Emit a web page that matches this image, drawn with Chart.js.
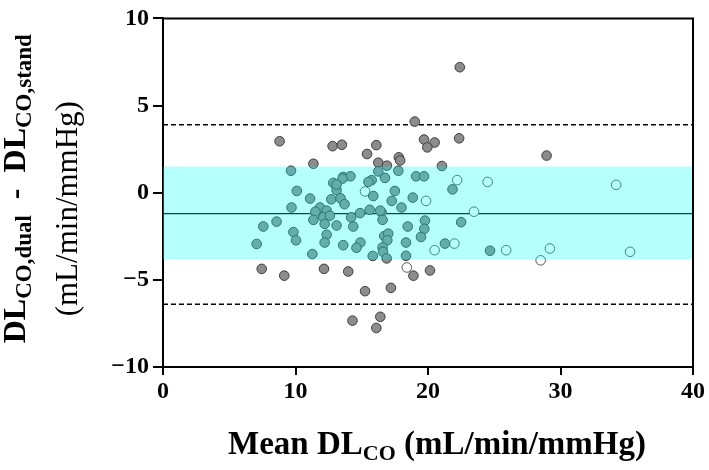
<!DOCTYPE html>
<html lang="en">
<head>
    <meta charset="UTF-8">
    <title>Bland-Altman DLCO</title>
    <script src="https://cdn.jsdelivr.net/npm/chart.js@4.4.1/dist/chart.umd.min.js"></script>
    <style>
        body {
            margin: 0;
            padding: 0;
            background: #fff;
        }
        .chart-box {
            width: 709px;
            height: 470px;
        }
    </style>
</head>
<body>
    <div class="chart-box">
        <canvas id="baChart" width="709" height="470"></canvas>
    </div>

    <script>
        // filled (grey) points: mean DLCO and difference dual - stand
        const filledMean = [
            8.8, 12.8, 13.5, 11.35, 22.4, 19.0, 16.1, 15.4, 19.7, 20.5,
            19.95, 22.35, 17.8, 17.9, 16.25, 16.9, 21.05, 28.95,
            7.45, 9.15, 12.15, 13.98, 15.25, 17.2, 18.9, 20.15, 14.3, 16.4, 16.1,
            9.66, 10.1, 12.85, 13.1, 17.76, 16.25, 13.6, 14.15, 15.75, 16.75,
            19.1, 19.7, 21.85, 17.5, 13.55, 11.1, 9.7, 11.85, 12.35, 11.5,
            12.7, 13.4, 13.7, 7.57, 8.57, 9.84, 10.04, 7.07, 11.35, 12.1,
            12.6, 12.2, 13.1, 12.35, 12.2, 11.27, 15.87, 17.26, 18.0, 18.85,
            22.5, 14.2, 14.87, 15.6, 16.5, 16.57, 14.36, 18.47, 19.77, 19.72,
            19.47, 16.7, 17.0, 16.93, 14.9, 14.6, 13.6, 16.57, 16.6, 18.34,
            15.83, 16.88, 18.34, 21.28, 24.68, 15.5, 13.1, 16.4
        ];
        const filledDiff = [
            2.95, 2.67, 2.75, 1.66, 7.2, 4.08, 2.73, 2.22, 3.05, 2.88,
            2.6, 3.12, 2.03, 1.85, 1.72, 1.55, 1.53, 2.13,
            -4.37, -4.76, -4.37, -4.52, -5.65, -5.46, -4.76, -4.46, -7.34, -7.12, -7.76,
            1.26, 0.1, 0.56, 0.15, 1.26, 1.22, 0.9, 0.94, 0.72, 0.85,
            0.94, 0.94, 0.19, 0.1, 0.81, -0.34, -0.85, -0.85, -1.03, -1.09,
            -0.38, -0.32, -0.66, -1.94, -1.66, -2.26, -2.73, -2.94, -1.56, -1.41,
            -1.32, -1.79, -1.88, -2.41, -2.86, -3.52, -0.19, -0.47, -0.85, -0.28,
            -1.69, -1.41, -1.17, -0.98, -1.13, -1.56, -1.94, -1.94, -1.6, -2.07,
            -2.54, -2.49, -2.35, -2.73, -2.86, -3.16, -3.01, -3.14, -3.39, -2.86,
            -3.63, -3.77, -3.62, -2.92, -3.33, 0.62, 0.47, -1.03
        ];

        // open points
        const openMean = [15.25, 22.2, 24.5, 19.85, 23.47, 20.5, 21.99, 25.9, 18.4, 34.2, 29.2, 28.5, 35.25];
        const openDiff = [0.07, 0.72, 0.62, -0.47, -1.09, -3.3, -2.92, -3.3, -4.29, 0.45, -3.2, -3.88, -3.39];

        // bias, limits of agreement and shaded band
        const bias = -1.2;
        const upperLoA = 3.9;
        const lowerLoA = -6.4;
        const bandTop = 1.5;
        const bandBottom = -3.8;

        const xRange = [0, 40];
        const yRange = [-10, 10];
        const xTicks = [0, 10, 20, 30, 40];
        const yTicks = [-10, -5, 0, 5, 10];

        const toPoints = (xs, ys) => xs.map((x, i) => ({ x: x, y: ys[i] }));
        const hLine = v => xRange.map(x => ({ x: x, y: v }));

        const serif = "'Liberation Serif', 'DejaVu Serif', serif";

        // draw a line of text made of normal and subscript pieces, centred on 0
        function drawRich(ctx, parts) {
            let total = 0;
            parts.forEach(p => {
                ctx.font = p.font;
                p.w = ctx.measureText(p.t).width;
                total += p.w;
            });
            let x = -total / 2;
            parts.forEach(p => {
                ctx.font = p.font;
                ctx.fillText(p.t, x, p.dy || 0);
                x += p.w;
            });
        }

        const framePlugin = {
            id: 'frameAndTitles',
            afterDraw(chart) {
                const ctx = chart.ctx;
                const a = chart.chartArea;
                ctx.save();
                ctx.strokeStyle = '#000';
                ctx.lineWidth = 2;
                ctx.beginPath();
                ctx.moveTo(a.left, a.top);
                ctx.lineTo(a.right, a.top);
                ctx.lineTo(a.right, a.bottom);
                ctx.stroke();

                ctx.fillStyle = '#000';
                ctx.textBaseline = 'alphabetic';
                const big = 'bold 32px ' + serif;
                const sub = 'bold 22px ' + serif;

                // x axis title
                ctx.save();
                ctx.translate((a.left + a.right) / 2 + 9, 454);
                drawRich(ctx, [
                    { t: 'Mean DL', font: 'bold 33px ' + serif },
                    { t: 'CO', font: sub, dy: 6 },
                    { t: ' (mL/min/mmHg)', font: 'bold 33px ' + serif }
                ]);
                ctx.restore();

                // y axis title, two lines
                ctx.save();
                ctx.translate(25, (a.top + a.bottom) / 2 - 4);
                ctx.rotate(-Math.PI / 2);
                drawRich(ctx, [
                    { t: 'DL', font: big },
                    { t: 'CO,dual', font: 'bold 23px ' + serif, dy: 6 },
                    { t: '  -  ', font: big },
                    { t: 'DL', font: big },
                    { t: 'CO,stand', font: 'bold 23px ' + serif, dy: 6 }
                ]);
                ctx.restore();

                ctx.save();
                ctx.translate(77, (a.top + a.bottom) / 2 + 16);
                ctx.rotate(-Math.PI / 2);
                drawRich(ctx, [
                    { t: '(mL/min/mmHg)', font: '31px ' + serif }
                ]);
                ctx.restore();
                ctx.restore();
            }
        };

        const tickFont = { family: serif, size: 24, weight: 'bold' };

        new Chart(document.getElementById('baChart'), {
            type: 'scatter',
            data: {
                datasets: [
                    {
                        label: 'band top',
                        type: 'line',
                        data: hLine(bandTop),
                        borderWidth: 0,
                        pointRadius: 0,
                        fill: false,
                        order: 1
                    },
                    {
                        label: 'band',
                        type: 'line',
                        data: hLine(bandBottom),
                        borderWidth: 0,
                        pointRadius: 0,
                        fill: '-1',
                        backgroundColor: 'rgba(0, 255, 255, 0.29)',
                        order: 1
                    },
                    {
                        label: 'filled',
                        data: toPoints(filledMean, filledDiff),
                        backgroundColor: '#8c8c8c',
                        borderColor: '#3c3c3c',
                        borderWidth: 1,
                        pointRadius: 4.8,
                        order: 3
                    },
                    {
                        label: 'open',
                        data: toPoints(openMean, openDiff),
                        backgroundColor: '#ffffff',
                        borderColor: '#555555',
                        borderWidth: 1,
                        pointRadius: 4.8,
                        order: 3
                    },
                    {
                        label: 'bias',
                        type: 'line',
                        data: hLine(bias),
                        borderColor: '#000',
                        borderWidth: 1.3,
                        pointRadius: 0,
                        order: 4
                    },
                    {
                        label: 'upper LoA',
                        type: 'line',
                        data: hLine(upperLoA),
                        borderColor: '#000',
                        borderWidth: 1.5,
                        borderDash: [5, 3],
                        pointRadius: 0,
                        order: 4
                    },
                    {
                        label: 'lower LoA',
                        type: 'line',
                        data: hLine(lowerLoA),
                        borderColor: '#000',
                        borderWidth: 1.5,
                        borderDash: [5, 3],
                        pointRadius: 0,
                        order: 4
                    }
                ]
            },
            options: {
                responsive: false,
                animation: false,
                layout: { padding: { top: 14, right: 16, left: 0, bottom: 0 } },
                plugins: {
                    legend: { display: false },
                    tooltip: { enabled: false }
                },
                scales: {
                    x: {
                        type: 'linear',
                        min: xRange[0],
                        max: xRange[1],
                        afterBuildTicks: s => { s.ticks = xTicks.map(v => ({ value: v })); },
                        afterFit: s => { s.height = 103; },
                        ticks: { font: tickFont, color: '#000', padding: 2 },
                        grid: { drawOnChartArea: false, tickLength: 8, color: '#000', lineWidth: 2 },
                        border: { color: '#000', width: 2 }
                    },
                    y: {
                        min: yRange[0],
                        max: yRange[1],
                        afterBuildTicks: s => { s.ticks = yTicks.map(v => ({ value: v })); },
                        afterFit: s => { s.width = 163; },
                        ticks: {
                            font: tickFont,
                            color: '#000',
                            padding: 4,
                            callback: v => (v < 0 ? '\u2212' + Math.abs(v) : String(v))
                        },
                        grid: { drawOnChartArea: false, tickLength: 10, color: '#000', lineWidth: 2 },
                        border: { color: '#000', width: 2 }
                    }
                }
            },
            plugins: [framePlugin]
        });
    </script>
</body>
</html>
